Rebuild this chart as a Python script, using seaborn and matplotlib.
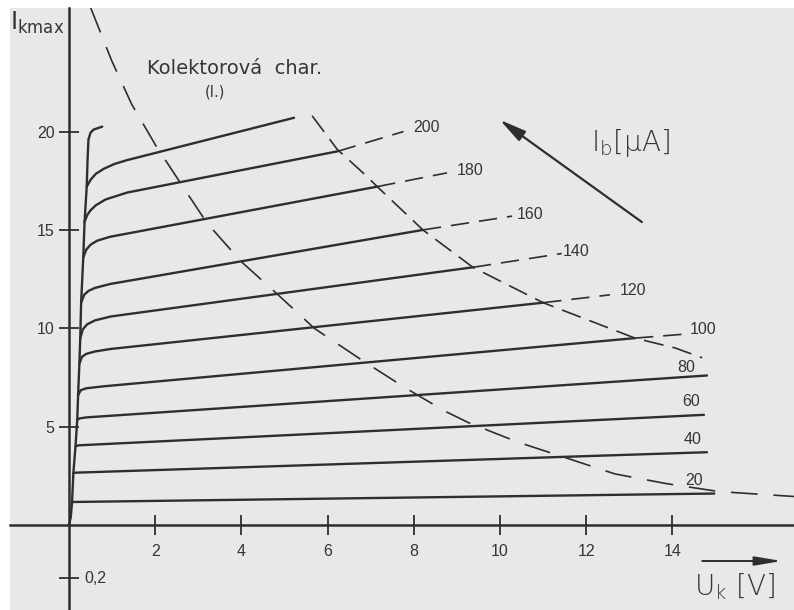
import matplotlib
matplotlib.use("Agg")
import matplotlib.pyplot as plt
import pandas as pd
import seaborn as sns

# ---------------- data ----------------
# saturation rise (common steep part near the Ic axis)
env_uk = [0.0, 0.04, 0.07, 0.10, 0.15, 0.19, 0.21, 0.24, 0.26, 0.28, 0.33, 0.36, 0.41, 0.43, 0.45, 0.50, 0.57, 0.77]
env_ic = [0.0, 0.40, 1.17, 2.64, 4.00, 5.35, 6.60, 8.20, 9.50, 11.3, 13.6, 15.4, 17.2, 18.6, 19.6, 19.95, 20.1, 20.25]

# output characteristics Ic(Uk) for base currents Ib [uA]
uk_220 = [0.41, 0.50, 0.62, 0.80, 1.05, 1.35, 5.22]
ic_220 = [17.2, 17.55, 17.85, 18.1, 18.35, 18.55, 20.7]
uk_200 = [0.36, 0.42, 0.50, 0.62, 0.85, 1.35, 6.24]
ic_200 = [15.4, 15.75, 16.0, 16.25, 16.55, 16.9, 19.0]
uk_180 = [0.33, 0.40, 0.50, 0.65, 0.95, 7.15]
ic_180 = [13.6, 14.0, 14.25, 14.45, 14.65, 17.2]
uk_160 = [0.28, 0.35, 0.45, 0.60, 0.95, 8.21]
ic_160 = [11.3, 11.7, 11.9, 12.05, 12.25, 15.0]
uk_140 = [0.26, 0.32, 0.42, 0.60, 0.97, 9.37]
ic_140 = [9.5, 9.95, 10.2, 10.4, 10.6, 13.1]
uk_120 = [0.24, 0.30, 0.40, 0.60, 0.97, 11.0]
ic_120 = [8.2, 8.55, 8.7, 8.82, 8.95, 11.3]
uk_100 = [0.21, 0.27, 0.40, 0.80, 13.13]
ic_100 = [6.6, 6.85, 6.95, 7.05, 9.5]
uk_80 = [0.19, 0.25, 0.40, 14.8]
ic_80 = [5.35, 5.42, 5.47, 7.6]
uk_60 = [0.15, 0.22, 14.73]
ic_60 = [4.0, 4.05, 5.6]
uk_40 = [0.10, 0.15, 14.8]
ic_40 = [2.64, 2.66, 3.7]
uk_20 = [0.07, 14.97]
ic_20 = [1.17, 1.6]

# dashed continuations of the characteristics beyond the limit hyperbola
ext_uk_200 = [6.24, 7.76]
ext_ic_200 = [19.0, 20.0]
ext_uk_180 = [7.15, 8.77]
ext_ic_180 = [17.2, 17.9]
ext_uk_160 = [8.21, 10.28]
ext_ic_160 = [15.0, 15.7]
ext_uk_140 = [9.37, 11.43]
ext_ic_140 = [13.1, 13.8]
ext_uk_120 = [11.0, 12.55]
ext_ic_120 = [11.3, 11.7]
ext_uk_100 = [13.13, 14.27]
ext_ic_100 = [9.5, 9.7]

# two dashed limit curves
hyp_in_uk = [0.50, 0.99, 1.45, 2.01, 2.64, 3.20, 3.99, 4.85, 5.69, 6.78, 7.78, 8.71, 9.27, 10.43, 11.55, 12.66, 13.87, 15.08, 16.82]
hyp_in_ic = [26.3, 23.6, 21.4, 19.3, 17.2, 15.35, 13.4, 11.7, 10.0, 8.4, 7.0, 5.8, 5.2, 4.2, 3.4, 2.6, 2.1, 1.7, 1.45]
hyp_out_uk = [5.64, 6.22, 6.87, 7.15, 8.21, 9.37, 11.0, 13.13, 14.06, 14.69]
hyp_out_ic = [20.8, 19.1, 17.8, 17.2, 15.0, 13.1, 11.3, 9.5, 9.0, 8.5]

ib_labels = ["200", "180", "160", "140", "120", "100", "80", "60", "40", "20"]
x_ticks = [2, 4, 6, 8, 10, 12, 14]
y_ticks = [5, 10, 15, 20]
ube_tick = -2.7
ube_label = "0,2"

# ---------------- style ----------------
sns.set_theme(style="white")
plt.rcParams["font.family"] = ["Liberation Sans", "DejaVu Sans"]
ink = "#2e2e2e"
txt = "#353535"
bg = "#e8e8e6"

fig = plt.figure(figsize=(7.94, 6.10), dpi=100, facecolor="white")
ax = fig.add_axes([10 / 794, 0, 784 / 794, 602 / 610])
ax.set_facecolor(bg)

# solid characteristics
solid_sets = [("220", uk_220, ic_220), ("200", uk_200, ic_200), ("180", uk_180, ic_180),
              ("160", uk_160, ic_160), ("140", uk_140, ic_140), ("120", uk_120, ic_120),
              ("100", uk_100, ic_100), ("80", uk_80, ic_80), ("60", uk_60, ic_60),
              ("40", uk_40, ic_40), ("20", uk_20, ic_20), ("env", env_uk, env_ic)]
solid = pd.concat([pd.DataFrame({"uk": u, "ic": i, "curve": n}) for n, u, i in solid_sets],
                  ignore_index=True)
sns.lineplot(data=solid, x="uk", y="ic", units="curve", estimator=None, sort=False,
             color=ink, lw=1.7, ax=ax, legend=False)

ext_sets = [("200", ext_uk_200, ext_ic_200), ("180", ext_uk_180, ext_ic_180),
            ("160", ext_uk_160, ext_ic_160), ("140", ext_uk_140, ext_ic_140),
            ("120", ext_uk_120, ext_ic_120), ("100", ext_uk_100, ext_ic_100)]
ext = pd.concat([pd.DataFrame({"uk": u, "ic": i, "curve": n}) for n, u, i in ext_sets],
                ignore_index=True)
sns.lineplot(data=ext, x="uk", y="ic", units="curve", estimator=None, sort=False,
             color=ink, lw=1.2, linestyle=(0, (11, 6)), ax=ax, legend=False)

sns.lineplot(x=hyp_in_uk, y=hyp_in_ic, sort=False, estimator=None, color=ink, lw=1.2,
             linestyle=(0, (16, 9.5)), ax=ax)
sns.lineplot(x=hyp_out_uk, y=hyp_out_ic, sort=False, estimator=None, color=ink, lw=1.2,
             linestyle=(0, (12, 5.5)), ax=ax)

# curve labels
lab_pos = [(7.98, 20.2), (9.0, 18.0), (10.39, 15.8), (11.46, 13.9), (12.78, 11.9),
           (14.41, 9.96), (14.1, 8.03), (14.22, 6.3), (14.25, 4.37), (14.29, 2.24)]
for lab, (lx, ly) in zip(ib_labels, lab_pos):
    ax.text(lx, ly, lab, ha="left", va="center", fontsize=11.5, color=txt)

# axes
ax.set_xlim(-1.37, 16.82)
ax.set_ylim(-4.32, 26.28)
for s in ["top", "right"]:
    ax.spines[s].set_visible(False)
ax.spines["left"].set_position(("data", 0))
ax.spines["bottom"].set_position(("data", 0))
for s in ["left", "bottom"]:
    ax.spines[s].set_color(ink)
    ax.spines[s].set_linewidth(1.8)

ax.set_xticks(x_ticks)
ax.set_xticklabels([str(v) for v in x_ticks])
ax.set_yticks([ube_tick] + y_ticks)
ax.set_yticklabels([""] + [str(v) for v in y_ticks])
ax.tick_params(axis="both", direction="inout", length=15, width=1.3, color=ink,
               labelsize=11.5, labelcolor=txt, bottom=True, left=True,
               top=False, right=False)
ax.tick_params(axis="x", pad=6)
ax.tick_params(axis="y", pad=3)
ax.set_xlabel("")
ax.set_ylabel("")
ax.text(0.35, ube_tick, ube_label, ha="left", va="center", fontsize=11.5, color=txt)

# titles / annotations
ax.text(-0.12, 26.2, r"$\mathregular{I_{kmax}}$", ha="right", va="top", fontsize=17,
        color=txt, family="DejaVu Sans")
ax.text(3.83, 23.2, "Kolektorová  char.", ha="center", va="center", fontsize=14,
        color=txt, family="DejaVu Sans")
ax.text(3.39, 22.0, "(I.)", ha="center", va="center", fontsize=10.5, color=txt,
        family="DejaVu Sans")

ax.text(13.02, 19.4, r"I$_\mathregular{b}$[μA]", ha="center", va="center", fontsize=20,
        color=txt, family="DejaVu Sans", fontweight="ultralight")
ax.annotate("", xy=(9.99, 20.6), xytext=(13.29, 15.4),
            arrowprops=dict(arrowstyle="-|>,head_length=0.9,head_width=0.2",
                            lw=1.6, color=ink, mutation_scale=18, shrinkA=0, shrinkB=0))
ax.annotate("", xy=(16.54, -1.83), xytext=(14.69, -1.83),
            arrowprops=dict(arrowstyle="-|>,head_length=0.9,head_width=0.15",
                            lw=1.4, color=ink, mutation_scale=18, shrinkA=0, shrinkB=0))
ax.text(15.45, -3.15, r"U$_\mathregular{k}$ [V]", ha="center", va="center", fontsize=20,
        color=txt, family="DejaVu Sans", fontweight="ultralight")

fig.savefig("out.png", dpi=100, facecolor="white")
